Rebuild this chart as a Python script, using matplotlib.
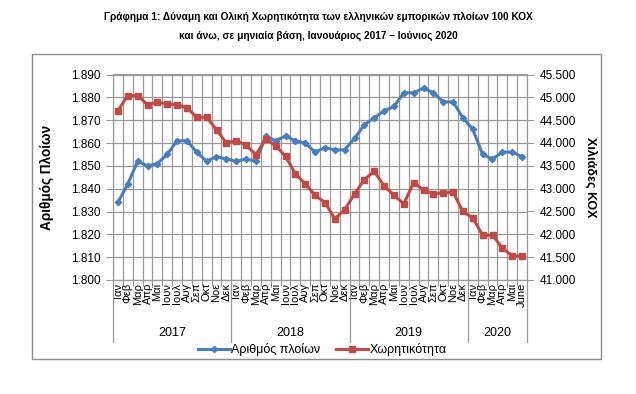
import numpy as np
import matplotlib
matplotlib.use("Agg")
import matplotlib.pyplot as plt
from matplotlib.lines import Line2D
from matplotlib.patches import Rectangle
from matplotlib.ticker import FuncFormatter
import matplotlib.transforms as mtransforms

plt.rcParams['font.family'] = ['Liberation Sans', 'DejaVu Sans']

# months Jan 2017 - Jun 2020
month_names = ['Ιαν', 'Φεβ', 'Μαρ', 'Απρ', 'Μαϊ', 'Ιουν', 'Ιουλ', 'Αυγ', 'Σεπ', 'Οκτ', 'Νοε', 'Δεκ']
month_labels = month_names * 3 + ['Ιαν', 'Φεβ', 'Μαρ', 'Απρ', 'Μαϊ', 'June']
years = ['2017', '2018', '2019', '2020']
year_counts = [12, 12, 12, 6]

# number of ships (left axis)
ships = [1834, 1842, 1852, 1850, 1851, 1855, 1861, 1861, 1856, 1852, 1854, 1853,
         1852, 1853, 1852, 1863, 1861, 1863, 1861, 1860, 1856, 1858, 1857, 1857,
         1862, 1868, 1871, 1874, 1876, 1882, 1882, 1884, 1882, 1878, 1878, 1871,
         1866, 1855, 1853, 1856, 1856, 1854]

# gross tonnage, thousands (right axis)
tonnage = [44710, 45040, 45040, 44840, 44890, 44855, 44840, 44770, 44565, 44565, 44290, 44000,
           44050, 43950, 43745, 44090, 43940, 43707, 43327, 43108, 42855, 42697, 42340, 42537,
           42882, 43200, 43378, 43064, 42855, 42669, 43130, 42970, 42890, 42905, 42925, 42500,
           42360, 41980, 41980, 41700, 41530, 41520]

blue = '#4a7ebb'
red = '#be4b48'
grid_c = '#9a9a9a'

W, H = 636, 394
fig = plt.figure(figsize=(W / 100, H / 100), dpi=100)

# outer chart frame
fig.patches.append(Rectangle((32 / W, 1 - 359 / H), (601 - 32) / W, (359 - 54) / H,
                             transform=fig.transFigure, fill=False,
                             edgecolor='#8c8c8c', lw=1))

ax = fig.add_axes([113 / W, 1 - 280 / H, 414 / W, 205.5 / H])
ax2 = ax.twinx()

x = np.arange(len(ships))
ax.plot(x, ships, color=blue, lw=2.2, marker='D', ms=3.2, zorder=3)
ax2.plot(x, tonnage, color=red, lw=2.2, marker='s', ms=4, zorder=3)

ax.set_xlim(-0.5, len(ships) - 0.5)
ax.set_ylim(1800, 1890)
ax2.set_ylim(41000, 45500)
ax.set_yticks(np.arange(1800, 1891, 10))
ax2.set_yticks(np.arange(41000, 45501, 500))
fmt = FuncFormatter(lambda v, p: f"{v / 1000:.3f}")
ax.yaxis.set_major_formatter(fmt)
ax2.yaxis.set_major_formatter(fmt)

# category boundaries as major ticks (grid), labels as minor ticks
ax.set_xticks(np.arange(-0.5, len(ships), 1))
ax.set_xticklabels([])
ax.set_xticks(x, minor=True)
ax.set_xticklabels(month_labels, minor=True, rotation=90, fontsize=8)
ax.tick_params(axis='x', which='minor', length=0, pad=2)
ax.tick_params(axis='x', which='major', length=4, color=grid_c)
ax.grid(True, which='major', color=grid_c, lw=0.9)
ax.set_axisbelow(True)

for a in (ax, ax2):
    for s in a.spines.values():
        s.set_color(grid_c)
ax.tick_params(axis='y', length=5, color=grid_c, labelsize=8.5, pad=4)
ax2.tick_params(axis='y', length=5, color=grid_c, labelsize=8.5, pad=4)

ax.set_ylabel('Αριθμός Πλοίων', fontsize=9.8, fontweight='bold', labelpad=12)
ax2.set_ylabel('Χιλιάδες ΚΟΧ', fontsize=9, fontweight='bold', rotation=-90, labelpad=15)

# year level of the category axis
trans = mtransforms.blended_transform_factory(ax.transData, fig.transFigure)
start = -0.5
bounds = [start]
for yr, n in zip(years, year_counts):
    ax.text(start + n / 2, 1 - 333 / H, yr, transform=trans, ha='center', va='center', fontsize=9)
    start += n
    bounds.append(start)
for b in bounds:
    ax.add_line(Line2D([b, b], [1 - 280 / H, 1 - 342 / H], transform=trans,
                       color=grid_c, lw=0.9, clip_on=False))

handles = [Line2D([], [], color=blue, lw=2.2, marker='D', ms=3.2),
           Line2D([], [], color=red, lw=2.2, marker='s', ms=4)]
fig.legend(handles, ['Αριθμός πλοίων', 'Χωρητικότητα'], loc='center',
           bbox_to_anchor=(322 / W, 1 - 350 / H), ncol=2, frameon=False,
           fontsize=9, handlelength=2.6, handletextpad=0.1, columnspacing=1.2)

fig.text(0.5, 1 - 17 / H, 'Γράφημα 1: Δύναμη και Ολική Χωρητικότητα των ελληνικών εμπορικών πλοίων 100 ΚΟΧ',
         ha='center', va='center', fontsize=7.3, fontweight='bold')
fig.text(0.5, 1 - 36 / H, 'και άνω, σε μηνιαία βάση, Ιανουάριος 2017 – Ιούνιος 2020',
         ha='center', va='center', fontsize=7.3, fontweight='bold')

fig.savefig('out.png', dpi=100)
